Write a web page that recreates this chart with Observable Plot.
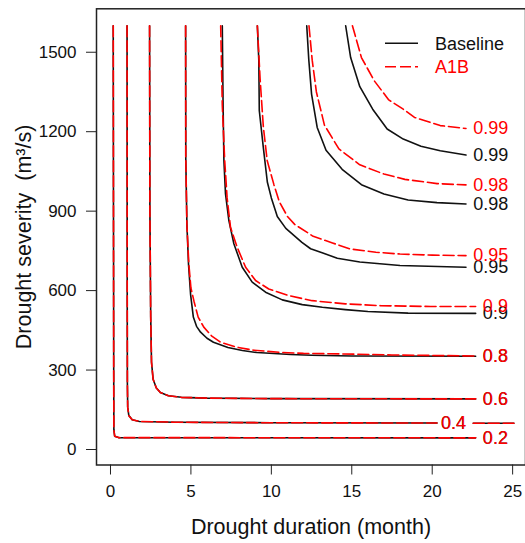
<!DOCTYPE html>
<html><head><meta charset="utf-8">
<script src="https://cdn.jsdelivr.net/npm/d3@7"></script>
<script src="https://cdn.jsdelivr.net/npm/@observablehq/plot@0.6"></script>
<style>
body{margin:0;background:#fff;}
#wrap{position:relative;width:525px;height:543px;font-family:"Liberation Sans",Arial,sans-serif;}
#legend{position:absolute;left:380px;top:28px;}
</style></head><body>
<div id="wrap"><div id="chart"></div>
<svg id="legend" width="140" height="55" font-family="Liberation Sans, Arial, sans-serif">
  <line x1="5" x2="38" y1="15.3" y2="15.3" stroke="#111" stroke-width="1.6"/>
  <text x="55" y="15.3" dy="0.35em" font-size="18" fill="#111">Baseline</text>
  <line x1="5" x2="38" y1="38.7" y2="38.7" stroke="#ff0000" stroke-width="1.6" stroke-dasharray="11,4"/>
  <text x="55" y="38.7" dy="0.35em" font-size="18" fill="#ff0000">A1B</text>
</svg>
</div>
<script>
// Contour levels (joint probability)
const levels = ["0.2","0.4","0.6","0.8","0.9","0.95","0.98","0.99"];
const xTicks = [0,5,10,15,20,25];
const yTicks = [0,300,600,900,1200,1500];

// Baseline contours: [duration (month), severity (m3/s)]
const base02 = [[0.17,1600],[0.2,300],[0.21,75],[0.26,50],[0.5,45],[22.7,44]];
const base04 = [[1.03,1600],[1.04,600],[1.05,250],[1.07,160],[1.14,128],[1.35,112],[1.8,106],[4,103],[10,101],[20.3,100]];
const base04Tail = [[22.55,99],[25.08,99]];
const base06 = [[2.43,1600],[2.45,900],[2.5,500],[2.55,330],[2.65,265],[2.85,232],[3.1,215],[3.6,203],[4.4,197],[6,194],[10,192],[22.7,191]];
const base08 = [[4.67,1600],[4.68,1100],[4.75,850],[4.85,700],[4.98,585],[5.15,500],[5.35,465],[5.6,443],[6.0,420],[6.4,405],[7.3,385],[8.2,374],[9.1,366],[11.2,359],[12.5,356],[15,353],[22.7,352]];
const base09 = [[6.95,1600],[7.0,1300],[7.05,1091],[7.15,965],[7.36,864],[7.67,777],[8.19,688],[8.81,632],[9.64,594],[10.68,565],[11.92,547],[13.17,537],[14.6,528],[16,521],[18.5,515],[22.7,514]];
const base95 = [[9.13,1600],[9.22,1470],[9.25,1280],[9.5,1141],[9.75,1010],[10.0,950],[10.37,880],[10.9,835],[11.9,782],[12.44,758],[13.2,742],[14.1,722],[15.5,708],[18.0,695],[22.1,688]];
const base98 = [[12.2,1600],[12.33,1470],[12.5,1342],[12.85,1216],[13.4,1130],[14.4,1058],[15.6,1000],[17.0,965],[18.5,942],[20.3,932],[22.1,927]];
const base99 = [[14.62,1600],[14.93,1480],[15.5,1370],[16.3,1285],[17.2,1210],[18.2,1172],[19.3,1145],[20.5,1128],[22.1,1112]];

// A1B contours
const a1b02 = [[0.17,1600],[0.2,300],[0.21,75],[0.26,50],[0.5,45],[22.7,44]];
const a1b04 = [[1.03,1600],[1.04,600],[1.05,250],[1.07,160],[1.14,128],[1.35,112],[1.8,106],[4,103],[10,101],[20.3,100]];
const a1b04Tail = [[22.55,99],[25.08,99]];
const a1b06 = [[2.43,1600],[2.45,900],[2.5,500],[2.55,330],[2.65,265],[2.85,232],[3.1,215],[3.6,203],[4.4,197],[6,194],[10,192],[22.7,191]];
const a1b08 = [[4.67,1600],[4.68,1100],[4.75,850],[4.87,700],[5.0,610],[5.19,560],[5.45,500],[5.8,462],[6.3,428],[6.85,405],[7.8,387],[8.9,375],[10.5,367],[12,363],[14.3,361],[17.5,357],[22.7,353]];
const a1b09 = [[6.85,1600],[6.95,1300],[7.1,1091],[7.25,950],[7.46,839],[7.88,763],[8.4,688],[9.02,638],[9.84,606],[11.09,581],[12.54,562],[14.6,550],[16.8,543],[19.9,540],[22.7,540]];
const a1b95 = [[9.13,1600],[9.3,1400],[9.5,1220],[9.74,1091],[10.16,1000],[10.5,935],[11.0,880],[11.45,850],[12.6,805],[13.8,780],[14.9,757],[16.5,745],[18.0,738],[20,734],[22.1,732]];
const a1b98 = [[12.34,1600],[12.54,1470],[12.8,1350],[13.3,1225],[14.2,1135],[15.5,1075],[17.0,1040],[18.3,1020],[20.3,1004],[22.1,999]];
const a1b99 = [[15.04,1600],[15.6,1480],[16.4,1392],[17.3,1320],[18.2,1285],[18.9,1254],[20.5,1223],[22.1,1212]];

const label04Start = 20.55;

const baseCurves = [base02, base04, base06, base08, base09, base95, base98, base99];
const a1bCurves = [a1b02, a1b04, a1b06, a1b08, a1b09, a1b95, a1b98, a1b99];

function toRows(curves, series, tail) {
  const rows = [];
  curves.forEach((pts, i) => pts.forEach(([d, s]) => rows.push({d, s, key: series + levels[i]})));
  tail.forEach(([d, s]) => rows.push({d, s, key: series + "0.4tail"}));
  return rows;
}
function toLabels(curves) {
  return curves.map((pts, i) => {
    const last = pts[pts.length - 1];
    return {lv: levels[i], d: levels[i] === "0.4" ? label04Start : last[0] + 0.45, s: last[1]};
  });
}

const baseRows = toRows(baseCurves, "b", base04Tail);
const a1bRows = toRows(a1bCurves, "a", a1b04Tail);
const baseLabels = toLabels(baseCurves);
const a1bLabels = toLabels(a1bCurves);

const font = "Liberation Sans, Arial, sans-serif";
const chart = Plot.plot({
  width: 525, height: 543,
  marginLeft: 96, marginRight: 0, marginTop: 8.3, marginBottom: 78.5,
  style: {fontFamily: font, background: "#fff", color: "#111"},
  x: {domain: [-0.87, 25.8]},
  y: {domain: [-58.5, 1664]},
  marks: [
    Plot.axisX({ticks: xTicks, tickSize: 10, tickPadding: 10, fontSize: 17, label: null, stroke: "#222", tickFormat: d => String(d)}),
    Plot.axisY({ticks: yTicks, tickSize: 10, tickPadding: 10, fontSize: 17, label: null, stroke: "#222", tickFormat: d => String(d)}),
    Plot.frame({stroke: "#222", strokeWidth: 1.5}),
    Plot.line(baseRows, {x: "d", y: "s", z: "key", stroke: "#111", strokeWidth: 1.6, curve: "linear"}),
    Plot.text(baseLabels, {x: "d", y: "s", text: "lv", textAnchor: "start", fill: "#111", fontSize: 18}),
    Plot.line(a1bRows, {x: "d", y: "s", z: "key", stroke: "#ff0000", strokeWidth: 1.6, strokeDasharray: "11,4"}),
    Plot.text(a1bLabels, {x: "d", y: "s", text: "lv", textAnchor: "start", fill: "#ff0000", fontSize: 18}),
    Plot.text(["Drought duration (month)"], {frameAnchor: "bottom", dy: 62, lineAnchor: "middle", textAnchor: "middle", fontSize: 21.5, fill: "#111"}),
    Plot.text(["Drought severity\u00a0 (m\u00b3/s)"], {frameAnchor: "left", dx: -72, rotate: -90, textAnchor: "middle", lineAnchor: "middle", fontSize: 21.5, fill: "#111"})
  ]
});
document.getElementById("chart").appendChild(chart);
</script>
</body></html>
